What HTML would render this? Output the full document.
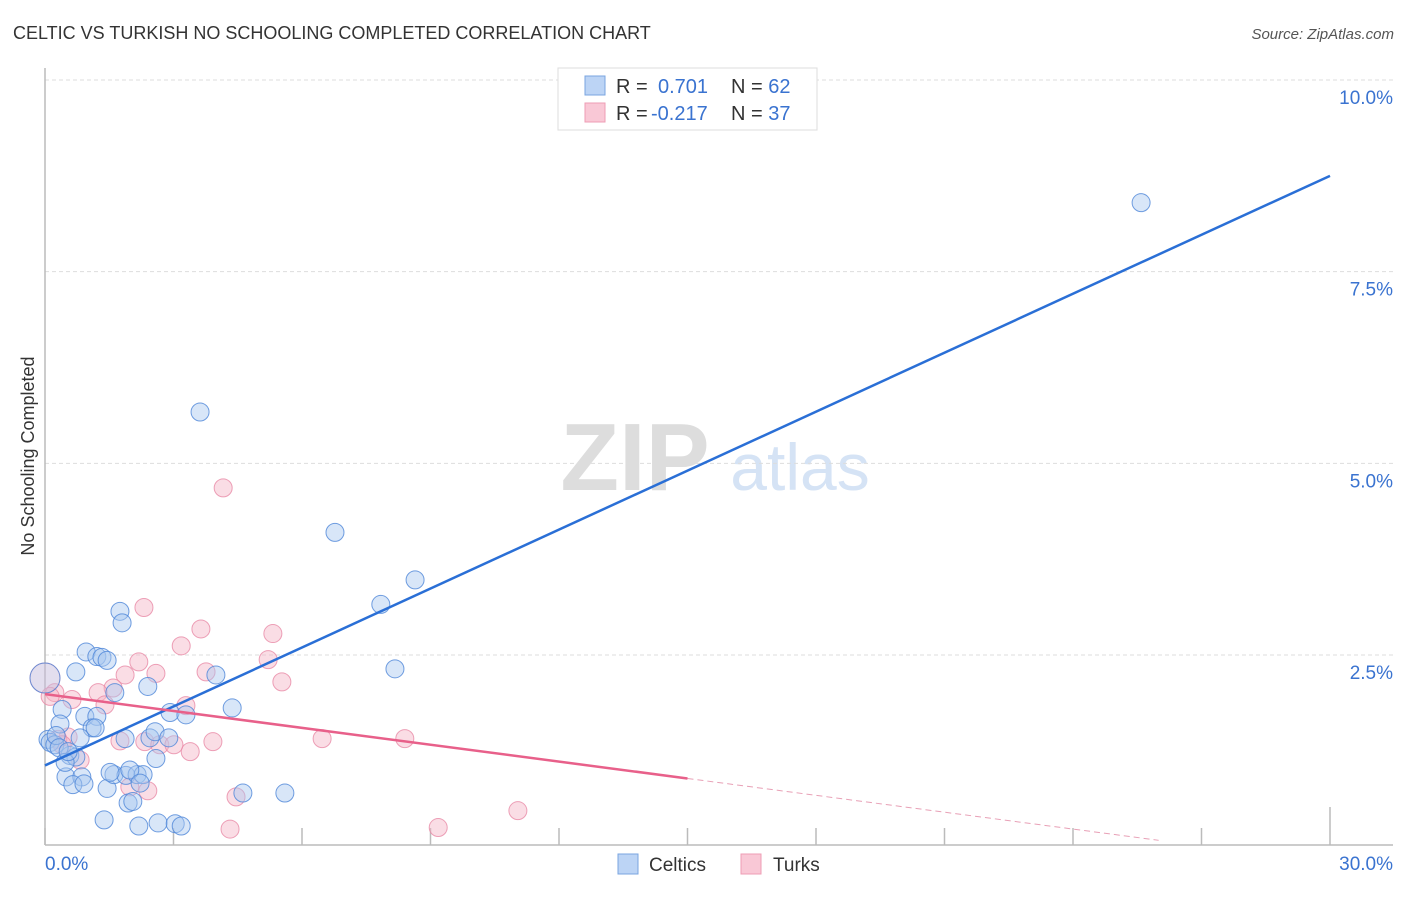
<!DOCTYPE html>
<html><head><meta charset="utf-8"><style>
body{margin:0;background:#fff;font-family:"Liberation Sans",sans-serif;}
svg text{font-family:"Liberation Sans",sans-serif;}
</style></head><body>
<svg id="chart" width="1406" height="892" xmlns="http://www.w3.org/2000/svg">
<text x="13" y="39" font-size="18" fill="#333">CELTIC VS TURKISH NO SCHOOLING COMPLETED CORRELATION CHART</text>
<text x="1394" y="39" font-size="15" fill="#555" text-anchor="end" font-style="italic">Source: ZipAtlas.com</text>
<g>
<text x="635" y="490" font-size="96" fill="#ddd" text-anchor="middle" font-family="Liberation Serif" font-weight="bold">ZIP</text>
<text x="800" y="490" font-size="66" fill="#d5e3f5" text-anchor="middle">atlas</text>
</g>
<g id="grid"></g>
<g id="axes"></g>
<g id="pts"></g>
<g id="lines"></g>
<text transform="translate(34,456) rotate(-90)" font-size="18" fill="#333" text-anchor="middle">No Schooling Completed</text>
<g>
<rect x="558" y="68" width="259" height="62" fill="#fff" stroke="#ddd"/>
<rect x="585" y="76" width="20" height="19" fill="#bcd4f5" stroke="#7aa5e0"/>
<rect x="585" y="103" width="20" height="19" fill="#f9c8d6" stroke="#ee9db4"/>
<text x="616" y="93" font-size="20" fill="#333">R = <tspan fill="#3a73d0" x="658">0.701</tspan><tspan x="731">N =</tspan><tspan fill="#3a73d0"> 62</tspan></text>
<text x="616" y="120" font-size="20" fill="#333">R = <tspan fill="#3a73d0" x="651">-0.217</tspan><tspan x="731">N =</tspan><tspan fill="#3a73d0"> 37</tspan></text>
</g>
<g>
<rect x="618" y="854" width="20" height="20" fill="#bcd4f5" stroke="#7aa5e0"/>
<text x="649" y="871" font-size="19" fill="#333">Celtics</text>
<rect x="741" y="854" width="20" height="20" fill="#f9c8d6" stroke="#ee9db4"/>
<text x="773" y="871" font-size="19" fill="#333">Turks</text>
</g>
</svg>
<script>
const yTicks=[2.5,5.0,7.5,10.0];
const yTickLabels=["2.5%","5.0%","7.5%","10.0%"];
const xTicks=[0,3,6,9,12,15,18,21,24,27,30];
const xEndLabels=["0.0%","30.0%"];
const celticsX=[25.59,3.62,6.77,8.64,7.84,8.17,1.75,1.80,0.96,1.21,1.33,1.45,0.72,2.40,1.63,3.99,4.37,0.40,0.93,1.21,1.10,0.35,0.07,0.12,0.23,0.26,0.58,0.72,0.49,0.86,0.65,0.91,1.45,1.61,1.89,2.15,2.29,1.98,1.94,2.05,1.87,2.45,2.57,2.92,3.29,2.59,2.89,1.38,2.19,2.64,3.04,3.18,4.62,5.60,0.33,0.82,1.17,0.47,2.22,1.52,0.54,0];
const celticsY=[8.40,5.67,4.10,3.48,3.16,2.32,3.07,2.92,2.54,2.48,2.47,2.43,2.28,2.09,2.01,2.24,1.81,1.79,1.70,1.70,1.55,1.60,1.40,1.36,1.33,1.45,1.19,1.17,0.91,0.91,0.81,0.82,0.76,0.94,0.93,0.94,0.94,1.00,0.57,0.59,1.41,1.42,1.50,1.75,1.72,1.15,1.42,0.35,0.27,0.31,0.30,0.27,0.70,0.70,1.29,1.42,1.55,1.10,0.83,0.97,1.24,2.20];
const turksX=[2.31,4.16,3.64,3.18,5.32,5.21,5.53,2.19,2.59,1.87,1.59,1.24,0.23,0.63,1.40,0.12,1.75,2.33,0.54,0.30,0.82,2.68,3.39,3.92,3.01,3.29,3.76,6.47,8.40,1.98,2.40,4.46,4.32,9.18,11.04,0,0.40];
const turksY=[3.12,4.68,2.84,2.62,2.78,2.44,2.15,2.41,2.26,2.24,2.07,2.01,2.01,1.92,1.85,1.96,1.38,1.37,1.43,1.40,1.13,1.33,1.24,1.37,1.33,1.84,2.28,1.41,1.41,0.78,0.73,0.65,0.23,0.25,0.47,2.20,1.33];
const celticsTrend=[1.06,8.75];
const turksTrend=[1.99,0.89];
const NS="http://www.w3.org/2000/svg";
const X=v=>45+v/30*1285, Y=v=>846.7-v*76.67;
function mk(tag,attrs,parent){const e=document.createElementNS(NS,tag);for(const k in attrs)e.setAttribute(k,attrs[k]);document.getElementById(parent).appendChild(e);return e;}
yTicks.forEach((t,i)=>{
 const g=mk('line',{x1:45,x2:1393,y1:Y(t),y2:Y(t),stroke:'#ddd','stroke-dasharray':'4,3'},'grid');
 
 
 const l=mk('text',{x:1393,y:Y(t)+24,'font-size':19,fill:'#3a73d0','text-anchor':'end'},'grid');
 l.textContent=yTickLabels[i];
 
 
});
const ax=mk('line',{x1:45,x2:1393,y1:845,y2:845,stroke:'#bbb','stroke-width':1.5},'axes');


const ay=mk('line',{x1:45,x2:45,y1:68,y2:845,stroke:'#bbb','stroke-width':1.5},'axes');


xTicks.forEach((t,i)=>{
 const tk=mk('line',{x1:X(t),x2:X(t),y1:845,y2:(i==xTicks.length-1?807:828),stroke:'#bbb','stroke-width':1.5},'axes');
 
 
});
const xl0=mk('text',{x:45,y:870,'font-size':19,fill:'#3a73d0'},'axes');xl0.textContent=xEndLabels[0];


const xl1=mk('text',{x:1393,y:870,'font-size':19,fill:'#3a73d0','text-anchor':'end'},'axes');xl1.textContent=xEndLabels[1];


function pts(xs,ys,fill,stroke,name){xs.forEach((x,i)=>{
 const big=(x===0);
 const c=mk('circle',{cx:X(x),cy:Y(ys[i]),r:big?15:9,fill:fill,'fill-opacity':big?0.3:0.45,stroke:stroke,'stroke-opacity':0.8,'stroke-width':1},'pts');
 
 
});}
pts(turksX,turksY,'#f5b3c6','#e98aa6','turks-point');
pts(celticsX,celticsY,'#a9c8f0','#4d86d8','celtics-point');
const bl=mk('line',{x1:X(0),y1:Y(celticsTrend[0]),x2:X(30),y2:Y(celticsTrend[1]),stroke:'#2a6fd6','stroke-width':2.5},'lines');


const pl=mk('line',{x1:X(0),y1:Y(turksTrend[0]),x2:X(15),y2:Y(turksTrend[1]),stroke:'#e8608a','stroke-width':2.5},'lines');


const slope=(turksTrend[1]-turksTrend[0])/15;
const xe=26;
const pd=mk('line',{x1:X(15),y1:Y(turksTrend[1]),x2:X(xe),y2:Math.min(845,Y(turksTrend[0]+slope*xe)),stroke:'#e8a0b6','stroke-width':1,'stroke-dasharray':'6,4'},'lines');


</script>
</body></html>
